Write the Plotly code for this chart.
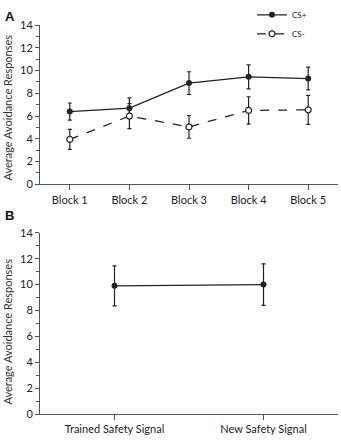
import plotly.graph_objects as go

blocks = ["Block 1", "Block 2", "Block 3", "Block 4", "Block 5"]
cs_plus = [6.4, 6.7, 8.9, 9.45, 9.3]
cs_plus_err = [0.75, 0.9, 1.0, 1.05, 1.0]
cs_minus = [3.95, 6.0, 5.05, 6.5, 6.55]
cs_minus_err = [0.88, 1.1, 1.0, 1.2, 1.28]

signals = ["Trained Safety Signal", "New Safety Signal"]
signal_vals = [9.9, 10.0]
signal_err = [1.55, 1.6]

W, H = 341, 440
FONT = "Lato"
DARK = "#222222"
AX = "#555555"

fig = go.Figure()

fig.add_trace(go.Scatter(
    x=blocks, y=cs_plus, name="CS+", mode="lines+markers",
    line=dict(color=DARK, width=1.3),
    marker=dict(color=DARK, size=6, symbol="circle"),
    error_y=dict(type="data", array=cs_plus_err, color=DARK, thickness=1.2, width=2),
    xaxis="x", yaxis="y"))
fig.add_trace(go.Scatter(
    x=blocks, y=cs_minus, name="CS-", mode="lines+markers",
    line=dict(color=DARK, width=1.3, dash="dash"),
    marker=dict(color="white", size=6, symbol="circle", line=dict(color=DARK, width=1.2)),
    error_y=dict(type="data", array=cs_minus_err, color=DARK, thickness=1.2, width=2),
    xaxis="x", yaxis="y"))
fig.add_trace(go.Scatter(
    x=signals, y=signal_vals, name="B", mode="lines+markers", showlegend=False,
    line=dict(color=DARK, width=1.3),
    marker=dict(color=DARK, size=6),
    error_y=dict(type="data", array=signal_err, color=DARK, thickness=1.2, width=2),
    xaxis="x2", yaxis="y2"))

xd = [40 / W, 338 / W]
yA = [1 - 181.5 / H, 1 - 16.7 / H]
yB = [1 - 419.3 / H, 1 - 231.7 / H]

common_x = dict(showline=True, linecolor=AX, linewidth=1, ticks="outside", ticklen=5,
                tickcolor=AX, tickfont=dict(family=FONT, size=11, color="#222"),
                showgrid=False, zeroline=False, fixedrange=True)
common_y = dict(showline=True, linecolor=AX, linewidth=1, ticks="outside", ticklen=4,
                tickcolor=AX, tickfont=dict(family=FONT, size=11, color="#222"),
                range=[0, 14], dtick=2, showgrid=False, zeroline=False,
                minor=dict(ticks="outside", dtick=1, ticklen=3, tickcolor=AX))

fig.update_layout(
    width=W, height=H, margin=dict(l=0, r=0, t=0, b=0),
    paper_bgcolor="white", plot_bgcolor="white",
    font=dict(family=FONT, color="#222"),
    xaxis=dict(domain=xd, anchor="y", range=[-0.5, 4.5], **common_x),
    yaxis=dict(domain=yA, anchor="x", **common_y),
    xaxis2=dict(domain=xd, anchor="y2", range=[-0.5, 1.5], **common_x),
    yaxis2=dict(domain=yB, anchor="x2", **common_y),
    legend=dict(x=252 / W, y=1 + 9 / H, xanchor="left", yanchor="top",
                font=dict(family=FONT, size=8, color="#222"),
                bgcolor="rgba(0,0,0,0)", itemwidth=30),
    showlegend=True,
    annotations=[
        dict(text="<b>A</b>", x=3 / W, y=1 - 8 / H, xref="paper", yref="paper",
             xanchor="left", yanchor="middle", showarrow=False,
             font=dict(family="Liberation Sans", size=13, color="#111")),
        dict(text="<b>B</b>", x=3 / W, y=1 - 214 / H, xref="paper", yref="paper",
             xanchor="left", yanchor="middle", showarrow=False,
             font=dict(family="Liberation Sans", size=13, color="#111")),
        dict(text="Average Avoidance Responses", x=8 / W, y=1 - 102 / H,
             xref="paper", yref="paper", xanchor="center", yanchor="middle",
             textangle=-90, showarrow=False, font=dict(family=FONT, size=11, color="#333")),
        dict(text="Average Avoidance Responses", x=8 / W, y=1 - 334 / H,
             xref="paper", yref="paper", xanchor="center", yanchor="middle",
             textangle=-90, showarrow=False, font=dict(family=FONT, size=11, color="#333")),
    ],
)

fig.write_html("out.html")
